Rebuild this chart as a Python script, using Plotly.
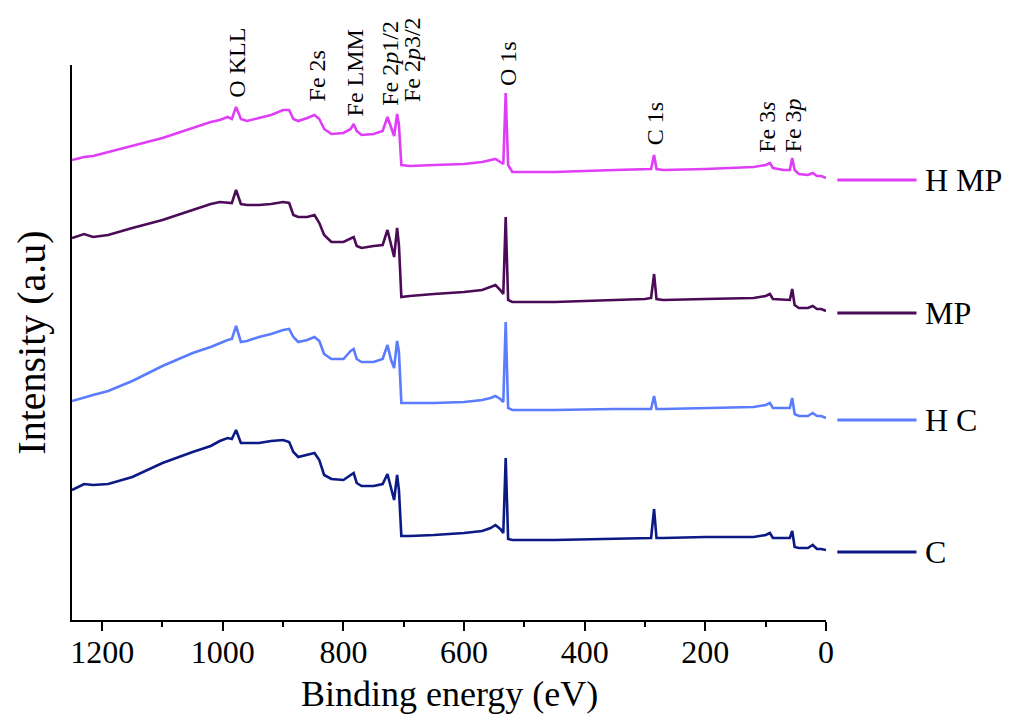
import plotly.graph_objects as go

# Survey XPS spectra, stacked with vertical offsets (arbitrary units)
energy_ev = [
    1250, 1230, 1215, 1190, 1150, 1100, 1050, 1020, 1005, 992,
    985, 978, 970, 960, 940, 920, 900, 890, 883, 875,
    860, 848, 840, 832, 820, 800, 788, 783, 778, 770,
    750, 735, 727, 721, 716, 711, 708, 704, 690, 650,
    600, 570, 556, 548, 540, 535, 531, 527, 520, 450,
    350, 300, 290, 285, 281, 270, 200, 120, 100, 93,
    88, 70, 60, 56, 52, 45, 30, 22, 15, 8,
    2, 0,
]

h_mp = [
    460, 463, 464, 468, 474, 482, 492, 498, 500, 503,
    501, 513, 501, 499, 502, 505, 510, 510, 501, 499,
    502, 505, 501, 491, 486, 487, 491, 496, 489, 485,
    486, 489, 503, 492, 484, 506, 495, 455, 454, 455,
    456, 458, 460, 461, 458, 456, 527, 455, 448, 448,
    450, 451, 451, 465, 451, 450, 451, 453, 455, 457,
    452, 450, 450, 462, 450, 446, 445, 447, 444, 444,
    442, 442,
]

mp = [
    382, 386, 383, 385, 392, 400, 410, 416, 418, 417,
    417, 430, 416, 415, 415, 416, 418, 417, 405, 403,
    403, 405, 397, 385, 378, 378, 382, 383, 374, 372,
    374, 375, 390, 375, 363, 392, 375, 323, 324, 326,
    328, 330, 333, 335, 330, 326, 403, 320, 318, 318,
    320, 321, 322, 346, 321, 320, 321, 322, 324, 326,
    321, 320, 320, 331, 315, 312, 312, 314, 311, 311,
    309, 309,
]

h_c = [
    219, 222, 225, 229, 239, 254, 267, 273, 277, 280,
    281, 294, 278, 279, 283, 286, 290, 291, 283, 278,
    280, 283, 279, 266, 261, 261, 269, 271, 261, 258,
    258, 261, 275, 260, 252, 279, 268, 217, 217, 217,
    218, 220, 222, 224, 221, 218, 298, 212, 210, 210,
    211, 211, 211, 224, 211, 211, 212, 213, 215, 217,
    212, 212, 212, 222, 206, 204, 204, 207, 204, 204,
    202, 202,
]

c = [
    130, 136, 135, 136, 143, 157, 168, 174, 179, 182,
    181, 190, 177, 177, 177, 179, 180, 178, 168, 163,
    165, 167, 160, 145, 141, 140, 145, 147, 137, 134,
    134, 136, 146, 132, 120, 145, 130, 84, 84, 85,
    87, 89, 92, 95, 91, 87, 162, 81, 80, 80,
    81, 82, 82, 111, 82, 82, 83, 83, 85, 87,
    82, 82, 82, 89, 73, 72, 72, 75, 71, 71,
    70, 70,
]

sample_names = ["H MP", "MP", "H C", "C"]
sample_values = [h_mp, mp, h_c, c]
sample_colors = ["#DF3EF6", "#4B0B57", "#5C7CFF", "#0C1A86"]

peak_names = ["O KLL", "Fe 2s", "Fe LMM", "Fe 2<i>p</i>1/2", "Fe 2<i>p</i>3/2",
              "O 1s", "C 1s", "Fe 3<i>s</i>", "Fe 3<i>p</i>"]
peak_label_ev = [977, 844, 781, 724, 687, 528, 284, 99, 54]

x_ticks = [1200, 1000, 800, 600, 400, 200, 0]

# label placement (bottom end of each rotated peak label, in a.u.)
peak_label_base = [520, 517, 502, 512, 516, 532, 473, 465, 466]

SERIF = "Liberation Serif, Times New Roman, serif"

fig = go.Figure()
for name, vals, col in zip(sample_names, sample_values, sample_colors):
    fig.add_trace(go.Scatter(
        x=energy_ev, y=vals, mode="lines", name=name,
        line=dict(color=col, width=2.6), showlegend=False,
    ))

annotations = []
for txt, ev, base in zip(peak_names, peak_label_ev, peak_label_base):
    annotations.append(dict(
        x=ev, y=base, xref="x", yref="y", text=txt, showarrow=False,
        textangle=-90, xanchor="center", yanchor="bottom",
        font=dict(family=SERIF, size=24, color="black"),
    ))

shapes = []
for name, vals, col in zip(sample_names, sample_values, sample_colors):
    level = vals[-1] - 2
    shapes.append(dict(
        type="line", xref="paper", yref="y", x0=1.015, x1=1.12,
        y0=level, y1=level, line=dict(color=col, width=3),
    ))
    annotations.append(dict(
        x=1.128, y=level, xref="paper", yref="y", text=name, showarrow=False,
        xanchor="left", yanchor="middle",
        font=dict(family=SERIF, size=32, color="black"),
    ))

# x-axis title placed along the bottom edge of the figure
annotations.append(dict(
    x=0.5, y=-0.173, xref="paper", yref="paper", text="Binding energy (eV)",
    showarrow=False, xanchor="center", yanchor="bottom",
    font=dict(family=SERIF, size=36, color="black"),
))

fig.update_layout(
    width=1013, height=715,
    margin=dict(l=72, r=187, t=65, b=95, autoexpand=False),
    paper_bgcolor="white", plot_bgcolor="white",
    annotations=annotations, shapes=shapes,
    xaxis=dict(
        range=[1250, 0], tickvals=x_ticks, ticks="outside", ticklen=9,
        tickwidth=2, tickcolor="black", showline=True, linewidth=2,
        linecolor="black", showgrid=False, zeroline=False,
        minor=dict(dtick=100, tick0=0, ticks="outside", ticklen=5,
                   tickwidth=2, tickcolor="black", showgrid=False),
        tickfont=dict(family=SERIF, size=32, color="black"),
        ticklabelstandoff=-6,
    ),
    yaxis=dict(
        range=[0, 555], showticklabels=False, ticks="", showline=True,
        linewidth=2, linecolor="black", showgrid=False, zeroline=False,
        title=dict(text="Intensity (a.u)", standoff=12,
                   font=dict(family=SERIF, size=40, color="black")),
    ),
)

fig.write_html("out.html")
